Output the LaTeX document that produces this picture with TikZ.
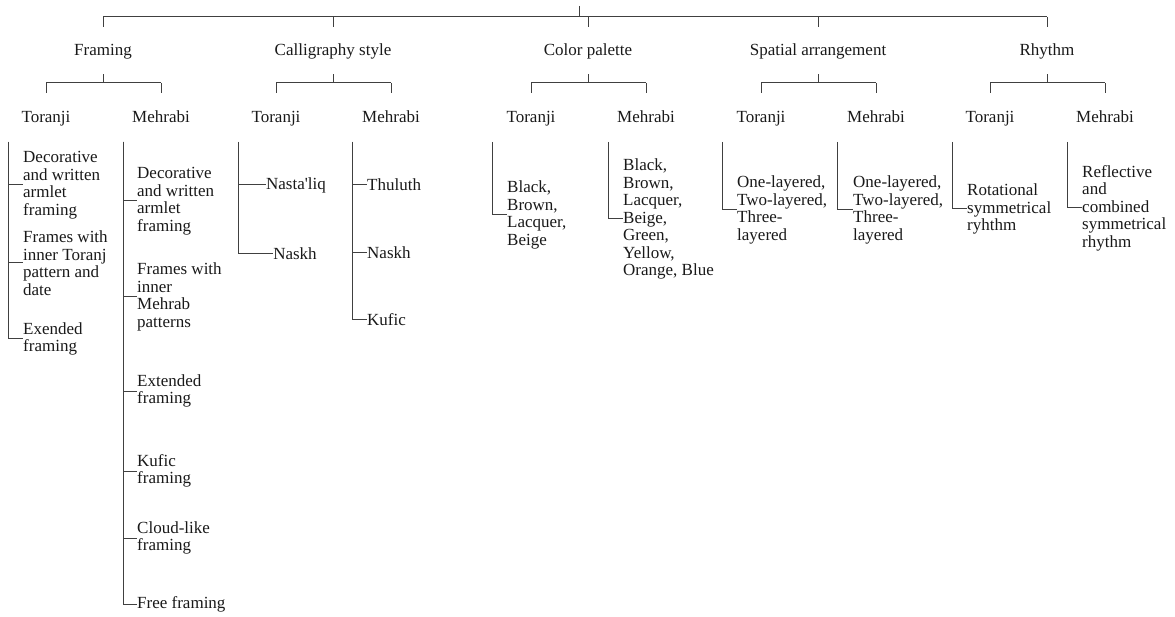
\documentclass[tikz,border=0pt]{standalone}
\usepackage{fontspec}
\setmainfont{Liberation Serif}
\newfontfamily\straightq{Liberation Serif}[Ligatures=TeXOff]
\begin{document}
\begin{tikzpicture}[x=1pt,y=-1pt,
  ln/.style={draw=black!75,line width=1pt},
  lbl/.style={inner sep=0pt,anchor=base,font=\fontsize{17}{17.5}\selectfont,text=black!90},
  item/.style={inner sep=0pt,align=left,font=\fontsize{17}{17.5}\selectfont,text=black!90,anchor=west}]
\useasboundingbox (0,0) rectangle (1175,617);
% root
\coordinate (rootc) at (579,6);
\coordinate (bar) at (579,17);
\draw[ln] (rootc) -- (bar);
\foreach \cx/\nm/\lab in {103/F/Framing, 333/C/Calligraphy style, 588/P/Color palette, 818/S/Spatial arrangement, 1047/R/Rhythm}{
  \node[lbl] (\nm) at (\cx,55.5) {\lab};
  \node[lbl] (\nm-T) at (\cx-57,122.5) {Toranji};
  \node[lbl] (\nm-M) at (\cx+58,122.5) {Mehrabi};
  \draw[ln] (\nm.north |- bar) -- ++(0,10);
  \coordinate (\nm-b) at (\cx,83);
  \draw[ln] (\nm-b) -- ++(0,-9);
  \draw[ln] (\nm-T.north |- \nm-b) -- (\nm-M.north |- \nm-b);
  \draw[ln] (\nm-T.north |- \nm-b) -- ++(0,10);
  \draw[ln] (\nm-M.north |- \nm-b) -- ++(0,10);
}
\draw[ln] (F.north |- bar) -- (R.north |- bar);
% line tops
\coordinate (FTl) at (8,142);
\coordinate (FMl) at (123,142);
\coordinate (CTl) at (238,142);
\coordinate (CMl) at (352,142);
\coordinate (PTl) at (492,142);
\coordinate (PMl) at (608,142);
\coordinate (STl) at (722,142);
\coordinate (SMl) at (837,142);
\coordinate (RTl) at (952,142);
\coordinate (RMl) at (1067,142);
% Framing Toranji
\node[item] (ft1) at (23,185) {Decorative\\and written\\armlet\\framing};
\node[item] (ft2) at (23,263) {Frames with\\inner Toranj\\pattern and\\date};
\node[item] (ft3) at (23,339) {Exended\\framing};
\foreach \i in {ft1,ft2,ft3}{\draw[ln] (FTl) |- (\i.west);}
% Framing Mehrabi
\node[item] (fm1) at (137,201) {Decorative\\and written\\armlet\\framing};
\node[item] (fm2) at (137,297) {Frames with\\inner\\Mehrab\\patterns};
\node[item] (fm3) at (137,391) {Extended\\framing};
\node[item] (fm4) at (137,471) {Kufic\\framing};
\node[item] (fm5) at (137,538) {Cloud-like\\framing};
\node[item] (fm6) at (137,604) {Free framing};
\foreach \i in {fm1,fm2,fm3,fm4,fm5,fm6}{\draw[ln] (FMl) |- (\i.west);}
% Calligraphy Toranji
\node[item,anchor=center] (ct1) at (296,185) {Nasta{\straightq'}liq};
\node[item,anchor=center] (ct2) at (295,254) {Naskh};
\foreach \i in {ct1,ct2}{\draw[ln] (CTl) |- (\i.west);}
% Calligraphy Mehrabi
\node[item] (cm1) at (367,185) {Thuluth};
\node[item] (cm2) at (367,253) {Naskh};
\node[item] (cm3) at (367,320) {Kufic};
\foreach \i in {cm1,cm2,cm3}{\draw[ln] (CMl) |- (\i.west);}
% Color palette
\node[item] (pt1) at (507,215) {Black,\\Brown,\\Lacquer,\\Beige};
\draw[ln] (PTl) |- (pt1.west);
\node[item] (pm1) at (623,219) {Black,\\Brown,\\Lacquer,\\Beige,\\Green,\\Yellow,\\Orange, Blue};
\draw[ln] (PMl) |- (pm1.west);
% Spatial arrangement
\node[item] (st1) at (737,210) {One-layered,\\Two-layered,\\Three-\\layered};
\draw[ln] (STl) |- (st1.west);
\node[item] (sm1) at (853,210) {One-layered,\\Two-layered,\\Three-\\layered};
\draw[ln] (SMl) |- (sm1.west);
% Rhythm
\node[item] (rt1) at (967,209) {Rotational\\symmetrical\\ryhthm};
\draw[ln] (RTl) |- (rt1.west);
\node[item] (rm1) at (1082,208) {Reflective\\and\\combined\\symmetrical\\rhythm};
\draw[ln] (RMl) |- (rm1.west);
\end{tikzpicture}
\end{document}
